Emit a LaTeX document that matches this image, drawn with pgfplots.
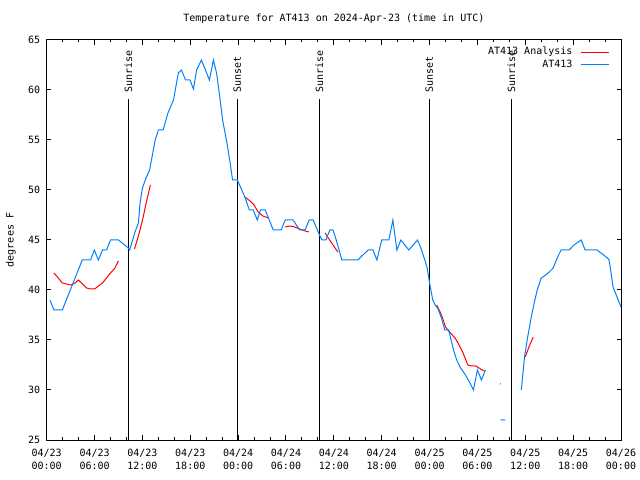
\documentclass[border=0pt]{standalone}
\usepackage{fontspec}
\setmainfont{DejaVu Sans Mono}
\usepackage{pgfplots}
\pgfplotsset{compat=1.18}
\definecolor{obsblue}{RGB}{0,128,255}
\definecolor{anared}{RGB}{255,0,0}

\begin{document}
\fontsize{10bp}{13bp}\selectfont
\begin{tikzpicture}[font=\fontsize{10bp}{13bp}\selectfont]
\useasboundingbox (-46.7bp,-40bp) rectangle (593.3bp,440bp);
\begin{axis}[
  scale only axis, width=574.3bp, height=400bp,
  xmin=0, xmax=72, ymin=25, ymax=65,
  axis line style={line width=1bp},
  every tick/.style={black, line width=1bp},
  major tick length=4.5bp, minor tick length=2.5bp,
  tick align=inside,
  xticklabel pos=lower, xtick pos=both,
  yticklabel pos=left, ytick pos=both,
  xtick={0,6,...,72}, minor x tick num=2,
  xticklabels={{04/23\\00:00},{04/23\\06:00},{04/23\\12:00},{04/23\\18:00},
               {04/24\\00:00},{04/24\\06:00},{04/24\\12:00},{04/24\\18:00},
               {04/25\\00:00},{04/25\\06:00},{04/25\\12:00},{04/25\\18:00},
               {04/26\\00:00}},
  xticklabel style={align=center, yshift=-6bp},
  ytick={25,30,...,65},
  yticklabel style={xshift=-3bp},
  /pgf/number format/assume math mode=true,
  title={Temperature for AT413 on 2024-Apr-23 (time in UTC)},
  title style={at={(0.5,1)}, anchor=base, yshift=13bp},
  ylabel={degrees F},
  ylabel style={at={(axis description cs:-0.0622,0.5)}, anchor=center},
  legend plot pos=right,
  legend cell align=right,
  legend style={draw=none, fill=none, at={(rel axis cs:1,1)}, anchor=north east,
    xshift=-11.7bp, yshift=-7bp, inner sep=0pt, column sep=7.7bp, row sep=2.7bp,
    nodes={inner sep=0pt, text height=7.5bp, text depth=2.5bp}},
  legend image code/.code={\draw[#1] (0bp,0bp) -- (28bp,0bp);},
  unbounded coords=jump,
]
% sunrise / sunset markers
\addplot[black, line width=1.3bp, forget plot] coordinates {(10.23,25) (10.23,59.1)};
\addplot[black, line width=1.3bp, forget plot] coordinates {(23.90,25) (23.90,59.1)};
\addplot[black, line width=1.3bp, forget plot] coordinates {(34.18,25) (34.18,59.1)};
\addplot[black, line width=1.3bp, forget plot] coordinates {(47.97,25) (47.97,59.1)};
\addplot[black, line width=1.3bp, forget plot] coordinates {(58.25,25) (58.25,59.1)};
\node[rotate=90, anchor=west, inner sep=0pt] at (axis cs:10.23,59.7) {Sunrise};
\node[rotate=90, anchor=west, inner sep=0pt] at (axis cs:23.90,59.7) {Sunset};
\node[rotate=90, anchor=west, inner sep=0pt] at (axis cs:34.18,59.7) {Sunrise};
\node[rotate=90, anchor=west, inner sep=0pt] at (axis cs:47.97,59.7) {Sunset};
\node[rotate=90, anchor=west, inner sep=0pt] at (axis cs:58.25,59.7) {Sunrise};

% analysis
\addplot[anared, line width=1bp] coordinates {
(0.91,41.7) (1.46,41.2) (1.96,40.7) (2.5,40.6) (3.0,40.5) (3.55,40.7) (3.96,41.0)
(4.5,40.6) (5.0,40.2) (5.5,40.1) (6.0,40.1) (6.5,40.4) (7.0,40.7) (7.5,41.2)
(8.0,41.7) (8.56,42.2) (8.98,42.9)
(10,nan)
(11.0,44.1) (11.35,45.0) (11.7,46.0) (12.1,47.3) (12.5,48.8) (13.0,50.5)
(20,nan)
(24.85,49.3) (25.5,48.9) (26.0,48.5) (26.5,47.8) (27.1,47.4) (27.8,47.2)
(29,nan)
(29.9,46.3) (30.5,46.4) (31.1,46.3) (31.7,46.1) (32.4,45.9) (32.9,45.8)
(34,nan)
(34.9,45.7) (35.3,45.2) (35.9,44.5) (36.5,43.8)
(40,nan)
(48.9,38.5) (49.5,37.5) (50.0,36.3) (50.5,35.8) (51.2,35.2) (51.7,34.5)
(52.2,33.7) (52.8,32.5) (53.3,32.4) (53.8,32.4) (54.4,32.1) (54.9,31.9)
(56,nan)
(56.85,30.6) (56.95,30.6)
(58,nan)
(60.0,33.3) (60.5,34.4) (61.0,35.3)
};
\addlegendentry{AT413 Analysis}

% observations
\addplot[obsblue, line width=1bp] coordinates {
(0.41,39.0) (0.91,38.0) (1.96,38.0) (4.46,43.0) (5.5,43.0) (5.97,44.0) (6.47,43.0)
(7.0,44.0) (7.5,44.0) (8.0,45.0) (9.0,45.0) (10.1,44.3) (10.4,44.0) (11.07,45.8)
(11.5,46.7) (11.7,48.7) (12.0,50.2) (12.5,51.3) (12.9,52.0) (13.6,55.0) (14.0,56.0)
(14.6,56.0) (15.2,57.7) (15.9,59.0) (16.5,61.7) (16.9,62.0) (17.4,61.0) (17.96,61.0)
(18.4,60.1) (18.8,62.0) (19.4,63.0) (20.4,61.0) (20.9,63.0) (21.3,61.7) (21.7,59.3)
(22.05,57.0) (22.6,54.7) (23.0,52.7) (23.3,51.0) (23.9,51.0) (24.85,49.3) (25.4,48.0)
(25.9,48.0) (26.4,47.0) (26.8,48.0) (27.4,48.0) (28.4,46.0) (29.4,46.0) (29.9,47.0)
(30.9,47.0) (31.7,46.0) (32.4,46.0) (32.9,47.0) (33.4,47.0) (34.2,45.5) (34.5,45.0)
(35.0,45.0) (35.5,46.0) (35.9,46.0) (36.3,45.0) (37.0,43.0) (39.0,43.0) (40.3,44.0)
(40.9,44.0) (41.4,43.0) (42.0,45.0) (42.9,45.0) (43.4,47.0) (43.9,44.0) (44.4,45.0)
(45.4,44.0) (46.5,45.0) (47.0,44.0) (47.4,43.0) (47.7,42.2) (48.0,40.7) (48.4,39.0)
(48.7,38.5) (49.0,38.2) (49.5,37.2) (49.9,36.0) (50.4,36.0) (51.0,34.0) (51.4,33.0)
(51.9,32.2) (52.5,31.5) (53.0,30.8) (53.5,30.0) (54.0,32.0) (54.5,31.0) (55.0,32.0)
(56,nan)
(56.9,27.0) (57.5,27.0)
(58,nan)
(59.5,30.0) (59.9,33.3) (60.3,35.3) (60.8,37.5) (61.2,39.0) (61.5,40.0) (62.0,41.2)
(62.4,41.4) (63.0,41.8) (63.5,42.2) (64.0,43.2) (64.5,44.0) (65.5,44.0) (66.1,44.5)
(67.0,45.0) (67.5,44.0) (69.0,44.0) (69.5,43.7) (70.3,43.2) (70.5,43.0) (70.7,42.0)
(71.0,40.3) (71.4,39.5) (72.0,38.3)
};
\addlegendentry{AT413}
\end{axis}
\end{tikzpicture}
\end{document}
